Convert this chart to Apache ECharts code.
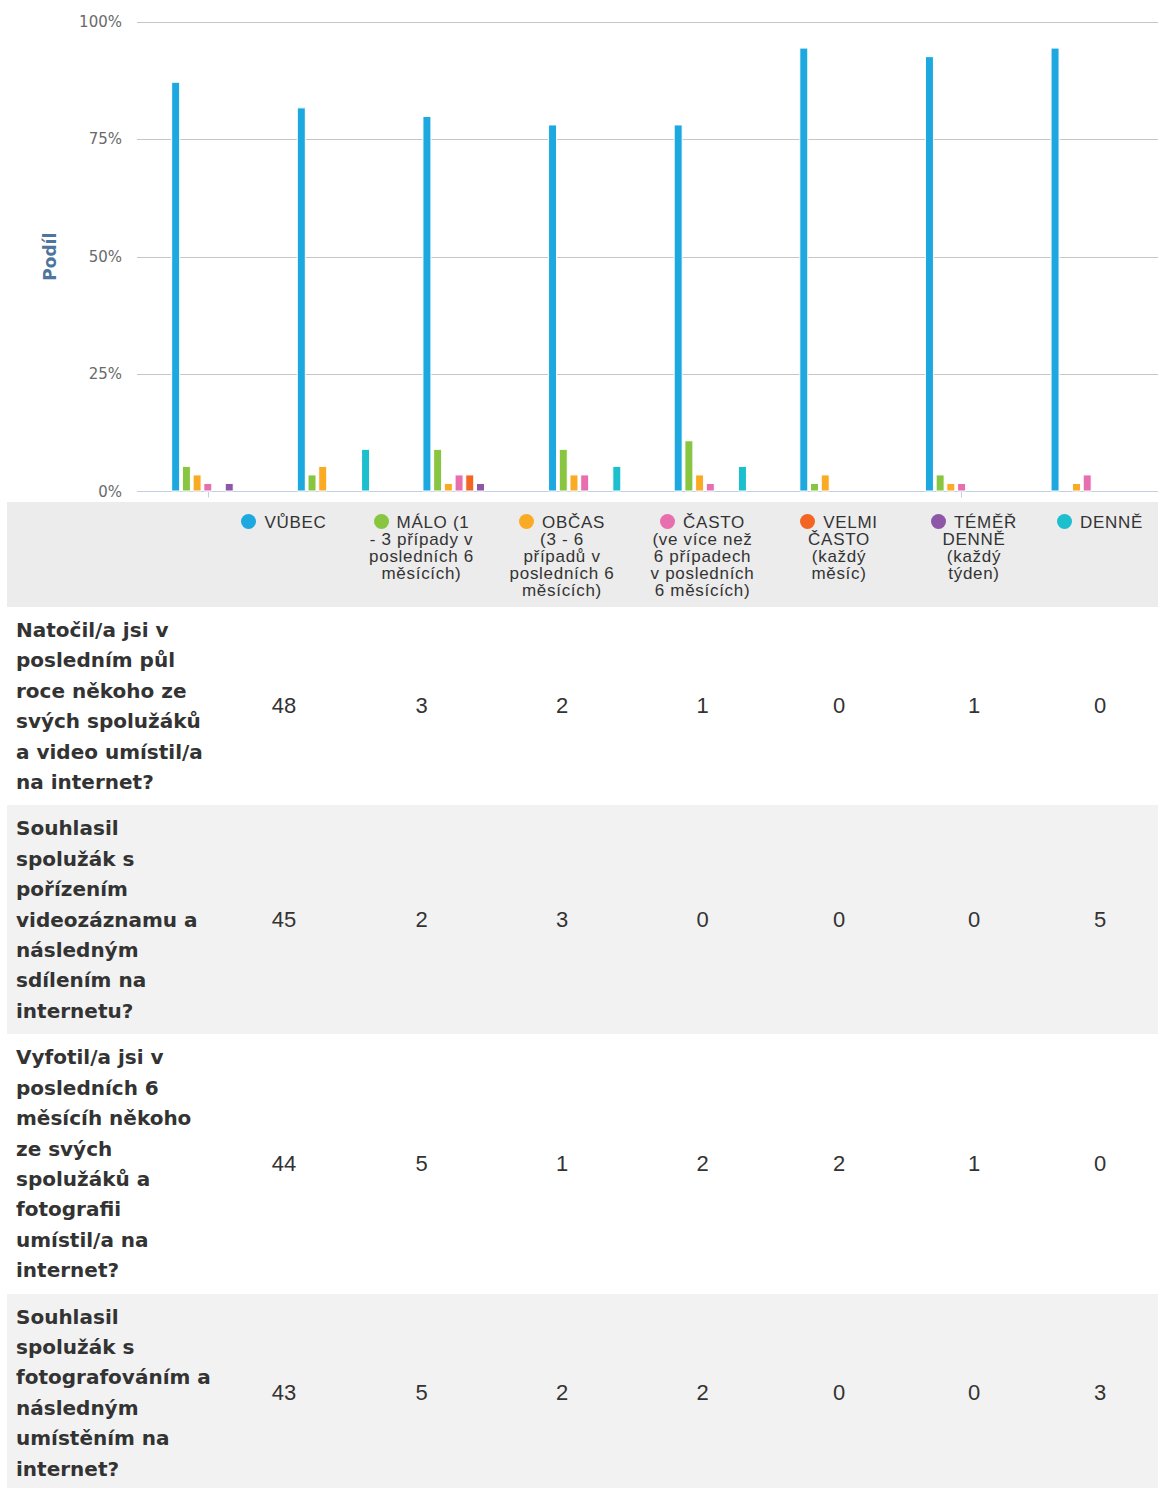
<!DOCTYPE html>
<html>
<head>
<meta charset="utf-8">
<script src="https://cdn.jsdelivr.net/npm/echarts@6/dist/echarts.min.js"></script>
<style>
  html, body { margin: 0; padding: 0; background: #fff; }
  #chart { width: 1158px; height: 502px; }
  table { border-collapse: collapse; table-layout: fixed; margin-left: 7px; width: 1151px; }
  th, td { padding: 0; }
  thead th { background: #ececec; vertical-align: top; padding: 11.5px 0 8.5px 0;
    font-family: "Liberation Sans", Arial, sans-serif; font-weight: normal; font-size: 17px;
    letter-spacing: 0.7px; line-height: 17px; color: #333; text-align: center; white-space: nowrap; }
  .dot { display: inline-block; width: 15px; height: 15px; border-radius: 50%; margin-right: 8px; vertical-align: -1px; }
  td.q { font-family: "DejaVu Sans", Verdana, sans-serif; font-weight: bold; font-size: 20px;
    line-height: 30.4px; color: #333; padding: 8px 0 8px 9px; vertical-align: top; white-space: nowrap; }
  td.n { font-family: "Liberation Sans", Arial, sans-serif; font-size: 22px; color: #333;
    text-align: center; vertical-align: middle; }
  tbody tr:nth-child(even) td { background: #f2f2f2; }
  tbody tr:nth-child(odd) td { background: #fff; }
</style>
</head>
<body>
<div id="chart"></div>
<table id="tbl">
  <colgroup>
    <col style="width:209px"><col style="width:136px"><col style="width:139px"><col style="width:142px">
    <col style="width:139px"><col style="width:134px"><col style="width:136px"><col style="width:116px">
  </colgroup>
  <thead><tr id="hdr"><th></th></tr></thead>
  <tbody id="body"></tbody>
</table>
<script>
// Questions (categories); only the first four are readable in the reference table
const categories = [
  ["Natočil/a jsi v", "posledním půl", "roce někoho ze", "svých spolužáků", "a video umístil/a", "na internet?"],
  ["Souhlasil", "spolužák s", "pořízením", "videozáznamu a", "následným", "sdílením na", "internetu?"],
  ["Vyfotil/a jsi v", "posledních 6", "měsícíh někoho", "ze svých", "spolužáků a", "fotografii", "umístil/a na", "internet?"],
  ["Souhlasil", "spolužák s", "fotografováním a", "následným", "umístěním na", "internet?"],
  ["Otázka 5"], ["Otázka 6"], ["Otázka 7"], ["Otázka 8"]
];
const visibleRows = 4;

// Series names (legend lines as in the table header)
const seriesNames = [
  ["VŮBEC"],
  ["MÁLO (1", "- 3 případy v", "posledních 6", "měsících)"],
  ["OBČAS", "(3 - 6", "případů v", "posledních 6", "měsících)"],
  ["ČASTO", "(ve více než", "6 případech", "v posledních", "6 měsících)"],
  ["VELMI", "ČASTO", "(každý", "měsíc)"],
  ["TÉMĚŘ", "DENNĚ", "(každý", "týden)"],
  ["DENNĚ"]
];
const seriesColors = ["#1ea8e0", "#88c540", "#fbaa24", "#e86fae", "#f26522", "#8e56a6", "#1bbfce"];

// Answer counts per question
const vubec = [48, 45, 44, 43, 43, 52, 51, 52];
const malo  = [3, 2, 5, 5, 6, 1, 2, 0];
const obcas = [2, 3, 1, 2, 2, 2, 1, 1];
const casto = [1, 0, 2, 2, 1, 0, 1, 2];
const velmi = [0, 0, 2, 0, 0, 0, 0, 0];
const temer = [1, 0, 1, 0, 0, 0, 0, 0];
const denne = [0, 5, 0, 3, 3, 0, 0, 0];
const counts = [vubec, malo, obcas, casto, velmi, temer, denne];

const yTicks = [0, 25, 50, 75, 100];

// share (%) of each answer within a question; zero answers draw no bar
const totals = categories.map((_, i) => counts.reduce((s, arr) => s + arr[i], 0));
const shares = counts.map(arr => arr.map((v, i) => v === 0 ? null : v / totals[i] * 100));

const chart = echarts.init(document.getElementById('chart'), null, { renderer: 'svg' });
chart.setOption({
  animation: false,
  grid: [
    { left: 137, right: 0, top: 22, height: 469.5 },
    { left: 145, right: 8, top: 22, height: 469.5 }
  ],
  xAxis: [
    { gridIndex: 0, type: 'value', min: 0, max: 1, show: false },
    { gridIndex: 1, type: 'category', data: categories.map(c => c.join(' ')),
      axisLine: { show: false },
      axisTick: { show: true, alignWithLabel: true, length: 6, lineStyle: { color: '#C0D0E0', width: 1 } },
      axisLabel: { show: false } }
  ],
  yAxis: [
    { gridIndex: 0, type: 'value', min: yTicks[0], max: yTicks[yTicks.length - 1], interval: 25,
      axisLine: { show: false }, axisTick: { show: false },
      axisLabel: { formatter: '{value}%', color: '#6a6a6a', fontFamily: 'DejaVu Sans', fontSize: 15, margin: 15 },
      splitLine: { lineStyle: { color: ['#C0D0E0', '#c6c6c6', '#c6c6c6', '#c6c6c6', '#c6c6c6'], width: 1 } },
      name: 'Podíl', nameLocation: 'middle', nameGap: 79, nameRotate: 90,
      nameTextStyle: { color: '#4d759e', fontFamily: 'DejaVu Sans', fontWeight: 'bold', fontSize: 17 } },
    { gridIndex: 1, type: 'value', min: 0, max: 100, show: false }
  ],
  series: shares.map((data, k) => ({
    type: 'bar', name: seriesNames[k].join(' '), xAxisIndex: 1, yAxisIndex: 1,
    data: data, barWidth: 9, barGap: '19%',
    itemStyle: { color: seriesColors[k], borderColor: '#fff', borderWidth: 1 }
  }))
});

// Table header with legend
const hdr = document.getElementById('hdr');
seriesNames.forEach((lines, k) => {
  const th = document.createElement('th');
  const dot = document.createElement('span');
  dot.className = 'dot';
  dot.style.background = seriesColors[k];
  th.appendChild(dot);
  lines.forEach((ln, j) => {
    if (j > 0) th.appendChild(document.createElement('br'));
    th.appendChild(document.createTextNode(ln));
  });
  hdr.appendChild(th);
});

// Table body
const body = document.getElementById('body');
for (let i = 0; i < visibleRows; i++) {
  const tr = document.createElement('tr');
  const q = document.createElement('td');
  q.className = 'q';
  categories[i].forEach((ln, j) => {
    if (j > 0) q.appendChild(document.createElement('br'));
    q.appendChild(document.createTextNode(ln));
  });
  tr.appendChild(q);
  counts.forEach(arr => {
    const td = document.createElement('td');
    td.className = 'n';
    td.textContent = arr[i];
    tr.appendChild(td);
  });
  body.appendChild(tr);
}
</script>
</body>
</html>
